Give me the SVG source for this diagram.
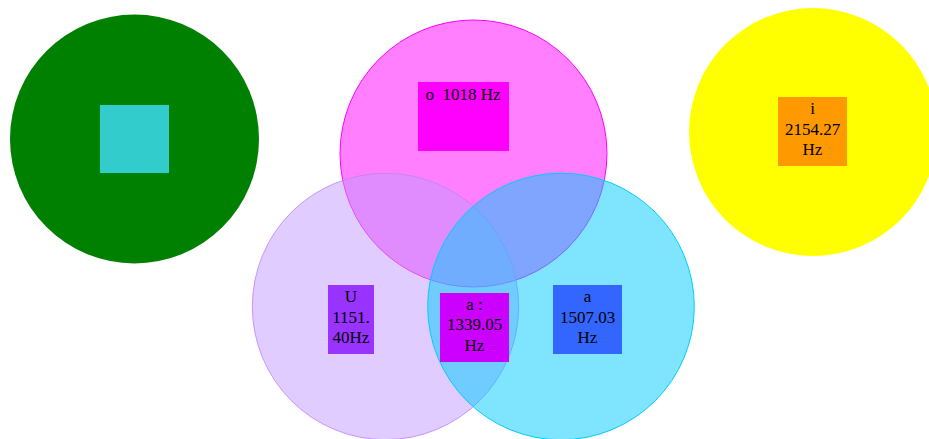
<svg xmlns="http://www.w3.org/2000/svg" width="929" height="439" viewBox="0 0 929 439">
<style>
  text { font-family: "Liberation Serif", "Times New Roman", serif; font-size: 17px; fill: #000; text-anchor: middle; }
  .set { stroke-width: 1; }
</style>
<rect width="929" height="439" fill="#ffffff"/>
<g id="node-green">
  <circle cx="134.5" cy="139" r="124.5" fill="#008000"/>
  <rect x="100" y="105" width="69" height="68" fill="#33cccc"/>
</g>
<g id="node-pink">
  <circle class="set" cx="473.5" cy="153.5" r="133.5" fill="#ff00ff" fill-opacity="0.5" stroke="#ff00ff"/>
</g>
<g id="node-lavender">
  <circle class="set" cx="385.5" cy="306.5" r="133.2" fill="#c299ff" fill-opacity="0.5" stroke="#c080ff" stroke-opacity="0.8"/>
</g>
<g id="node-cyan">
  <circle class="set" cx="561" cy="306.5" r="133.3" fill="#00ccff" fill-opacity="0.5" stroke="#00ccff"/>
</g>
<g id="node-yellow">
  <circle cx="813" cy="132" r="124" fill="#ffff00"/>
  <rect x="778" y="97" width="69" height="69" fill="#ff9900"/>
  <text x="812.5" y="114">i</text>
  <text x="812.5" y="134.5">2154.27</text>
  <text x="812.5" y="155">Hz</text>
</g>
<g id="label-o">
  <rect x="418" y="82" width="91" height="69" fill="#ff00ff"/>
  <text x="463" y="99.5" xml:space="preserve">o  1018 Hz</text>
</g>
<g id="label-U">
  <rect x="328" y="285" width="46" height="69" fill="#9933ff"/>
  <text x="351" y="302">U</text>
  <text x="351" y="322.5">1151.</text>
  <text x="351" y="343">40Hz</text>
</g>
<g id="label-a-mid">
  <rect x="440" y="293" width="69" height="69" fill="#cc00ff"/>
  <text x="474.5" y="309.5">a :</text>
  <text x="474.5" y="330">1339.05</text>
  <text x="474.5" y="350.5">Hz</text>
</g>
<g id="label-a-right">
  <rect x="553" y="285" width="69" height="69" fill="#3366ff"/>
  <text x="587.5" y="302">a</text>
  <text x="587.5" y="322.5">1507.03</text>
  <text x="587.5" y="343">Hz</text>
</g>
<g id="connectors"/>
</svg>
